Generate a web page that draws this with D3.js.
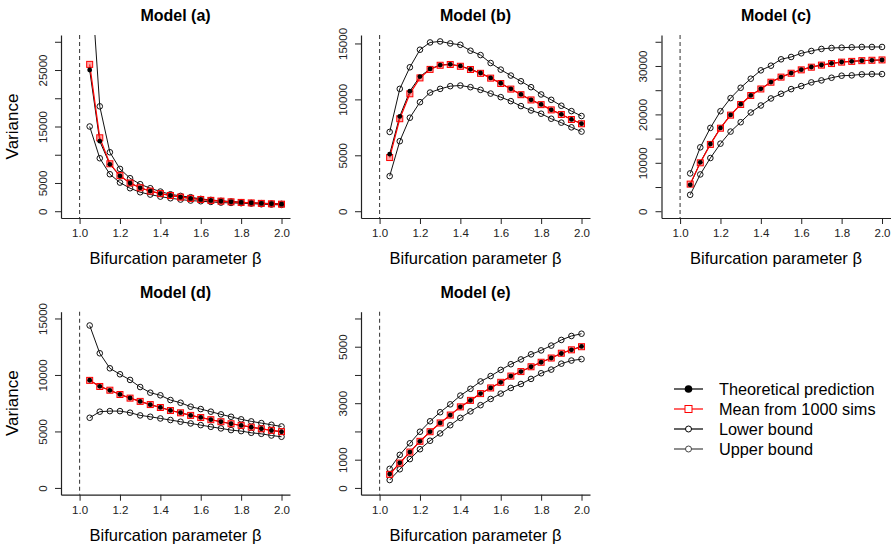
<!DOCTYPE html>
<html>
<head>
<meta charset="utf-8">
<script src="https://cdn.jsdelivr.net/npm/d3@7"></script>
<style>
  body { margin: 0; background: #fff; }
  svg { font-family: "Liberation Sans", Arial, sans-serif; }
  .axis path, .axis line { stroke: #222; }
  .axis text { fill: #222; font-size: 11.5px; }
</style>
</head>
<body>
<svg id="chart" width="891" height="548"></svg>
<script>
// beta values shared by every panel
const beta = [1.05, 1.10, 1.15, 1.20, 1.25, 1.30, 1.35, 1.40, 1.45, 1.50,
              1.55, 1.60, 1.65, 1.70, 1.75, 1.80, 1.85, 1.90, 1.95, 2.00];
const xTicks = [1.0, 1.2, 1.4, 1.6, 1.8, 2.0];

// Model (a)
const theoA  = [25000, 12400, 8300, 6250, 4980, 4150, 3570, 3120, 2780, 2500, 2270, 2080, 1920, 1790, 1670, 1560, 1470, 1390, 1320, 1250];
const meanA  = [26000, 13000, 8400, 6300, 5000, 4150, 3560, 3120, 2780, 2500, 2270, 2080, 1920, 1790, 1660, 1560, 1470, 1390, 1310, 1250];
const lowerA = [15000, 9380, 6550, 5070, 4070, 3360, 2950, 2590, 2300, 2060, 1890, 1770, 1650, 1530, 1470, 1420, 1360, 1240, 1180, 1120];
const upperA = [45000, 18570, 10440, 7490, 5840, 4780, 4070, 3480, 3000, 2710, 2480, 2180, 2000, 1830, 1710, 1590, 1470, 1420, 1360, 1300];
const yTicksA = [0, 5000, 10000, 15000, 20000, 25000, 30000];
const yLabelsA = [0, 5000, 15000, 25000];

// Model (b)
const theoB  = [5100, 8480, 10730, 12040, 12720, 13070, 13130, 12990, 12690, 12360, 11920, 11440, 10940, 10440, 9960, 9550, 9070, 8660, 8210, 7830];
const meanB  = [4800, 8270, 10500, 11920, 12680, 13050, 13120, 12960, 12670, 12330, 11900, 11420, 10920, 10420, 9950, 9530, 9060, 8650, 8200, 7820];
const lowerB = [3140, 6260, 8360, 9750, 10610, 10940, 11180, 11240, 11090, 10850, 10520, 10200, 9840, 9400, 9010, 8720, 8270, 7920, 7500, 7120];
const upperB = [7090, 10940, 12870, 14440, 15090, 15180, 15000, 14880, 14350, 13960, 13250, 12660, 12130, 11620, 11090, 10440, 9960, 9430, 8950, 8510];
const yTicksB = [0, 5000, 10000, 15000];
const yLabelsB = [0, 5000, 10000, 15000];

// Model (c)
const theoC  = [5460, 10090, 13890, 17210, 19900, 22110, 23910, 25290, 26680, 27710, 28540, 29230, 29790, 30200, 30550, 30820, 30960, 31100, 31170, 31240];
const meanC  = [5600, 10000, 13800, 17150, 19850, 22050, 23900, 25250, 26650, 27700, 28500, 29200, 29750, 30180, 30500, 30800, 30950, 31100, 31180, 31250];
const lowerC = [3390, 7600, 10990, 13960, 16450, 18380, 20390, 21840, 23290, 24260, 25220, 25850, 26610, 27020, 27570, 27990, 28060, 28270, 28330, 28330];
const upperC = [7810, 13200, 17210, 20660, 23360, 25500, 27370, 29100, 30060, 31380, 31860, 32620, 33100, 33520, 33720, 33790, 33860, 33930, 33930, 33930];
const yTicksC = [0, 5000, 10000, 15000, 20000, 25000, 30000, 35000];
const yLabelsC = [0, 10000, 20000, 30000];

// Model (d)
const theoD  = [9530, 8990, 8640, 8280, 7960, 7660, 7370, 7130, 6860, 6660, 6420, 6240, 6040, 5860, 5680, 5530, 5380, 5240, 5090, 4970];
const meanD  = [9520, 8980, 8650, 8270, 7950, 7660, 7380, 7120, 6850, 6650, 6420, 6230, 6040, 5860, 5680, 5540, 5380, 5230, 5100, 4980];
const lowerD = [6210, 6750, 6800, 6800, 6660, 6420, 6300, 6150, 6010, 5860, 5710, 5560, 5410, 5270, 5120, 5030, 4880, 4790, 4640, 4530];
const upperD = [14380, 11920, 10590, 10060, 9560, 8930, 8430, 8200, 7780, 7540, 7190, 6980, 6750, 6510, 6300, 6070, 5890, 5740, 5590, 5440];
const yTicksD = [0, 5000, 10000, 15000];
const yLabelsD = [0, 5000, 10000, 15000];

// Model (e)
const theoE  = [490, 890, 1270, 1650, 1990, 2300, 2580, 2870, 3100, 3340, 3540, 3740, 3960, 4120, 4290, 4450, 4600, 4760, 4890, 5010];
const meanE  = [480, 880, 1270, 1650, 1990, 2300, 2580, 2870, 3100, 3340, 3540, 3740, 3960, 4120, 4290, 4450, 4600, 4770, 4890, 5000];
const lowerE = [280, 660, 1020, 1370, 1670, 1930, 2220, 2480, 2710, 2930, 3150, 3340, 3540, 3680, 3860, 4060, 4190, 4400, 4510, 4560];
const upperE = [675, 1170, 1580, 1990, 2360, 2680, 2960, 3270, 3510, 3770, 3960, 4180, 4380, 4550, 4730, 4870, 5040, 5240, 5380, 5460];
const yTicksE = [0, 1000, 2000, 3000, 4000, 5000, 6000];
const yLabelsE = [0, 1000, 3000, 5000];

const legendLabels = ["Theoretical prediction", "Mean from 1000 sims", "Lower bound", "Upper bound"];

const panels = [
  {title: "Model (a)", theo: theoA, mean: meanA, lower: lowerA, upper: upperA, yMax: 30000, ticks: yTicksA, labels: yLabelsA, row: 0, col: 0},
  {title: "Model (b)", theo: theoB, mean: meanB, lower: lowerB, upper: upperB, yMax: 15150, ticks: yTicksB, labels: yLabelsB, row: 0, col: 1},
  {title: "Model (c)", theo: theoC, mean: meanC, lower: lowerC, upper: upperC, yMax: 35000, ticks: yTicksC, labels: yLabelsC, row: 0, col: 2},
  {title: "Model (d)", theo: theoD, mean: meanD, lower: lowerD, upper: upperD, yMax: 15000, ticks: yTicksD, labels: yLabelsD, row: 1, col: 0},
  {title: "Model (e)", theo: theoE, mean: meanE, lower: lowerE, upper: upperE, yMax: 6000, ticks: yTicksE, labels: yLabelsE, row: 1, col: 1}
];

const svg = d3.select("#chart");
const plotW = 229, plotH = 183;
const lefts = [61, 361, 661.5];
const tops = [35, 311.7];

// R-style 4% padding around xlim = c(0.95, 2)
const xPad = 0.04 * 1.05;

panels.forEach((p, i) => {
  const x0 = lefts[p.col], y0 = tops[p.row];
  const g = svg.append("g").attr("transform", `translate(${x0},${y0})`);

  const x = d3.scaleLinear().domain([0.95 - xPad, 2 + xPad]).range([0, plotW]);
  const y = d3.scaleLinear().domain([-0.04 * p.yMax, 1.04 * p.yMax]).range([plotH, 0]);

  g.append("clipPath").attr("id", "clip" + i)
    .append("rect").attr("width", plotW).attr("height", plotH);

  // axes
  g.append("g").attr("class", "axis")
    .attr("transform", `translate(0,${plotH})`)
    .call(d3.axisBottom(x).tickValues(xTicks).tickSize(6).tickSizeOuter(0).tickPadding(5)
      .tickFormat(d3.format(".1f")));

  const yAx = g.append("g").attr("class", "axis")
    .call(d3.axisLeft(y).tickValues(p.ticks).tickSize(6).tickSizeOuter(0)
      .tickFormat(d => p.labels.includes(d) ? String(d) : ""));
  yAx.selectAll("text")
    .attr("x", 0).attr("y", 0).attr("dy", "0.35em")
    .attr("text-anchor", "middle")
    .attr("transform", "translate(-18.5,0) rotate(-90)");

  g.selectAll(".axis path").attr("stroke-width", 1.2);
  g.selectAll(".axis line").attr("stroke-width", 1);

  // dashed reference at beta = 1
  g.append("line")
    .attr("x1", x(1)).attr("x2", x(1)).attr("y1", 0).attr("y2", plotH)
    .attr("stroke", "#444").attr("stroke-dasharray", "4,3").attr("stroke-width", 1.1);

  const plot = g.append("g").attr("clip-path", `url(#clip${i})`);
  const line = vals => d3.line().x((d, j) => x(beta[j])).y(d => y(d))(vals);

  [p.lower, p.upper].forEach(vals => {
    plot.append("path").attr("d", line(vals))
      .attr("fill", "none").attr("stroke", "#111").attr("stroke-width", 1);
    plot.selectAll(null).data(vals).join("circle")
      .attr("cx", (d, j) => x(beta[j])).attr("cy", d => y(d)).attr("r", 2.8)
      .attr("fill", "none").attr("stroke", "#111").attr("stroke-width", 1);
  });

  plot.append("path").attr("d", line(p.theo))
    .attr("fill", "none").attr("stroke", "#000").attr("stroke-width", 1);

  plot.append("path").attr("d", line(p.mean))
    .attr("fill", "none").attr("stroke", "#ff0000").attr("stroke-width", 1.2);
  plot.selectAll(null).data(p.mean).join("rect")
    .attr("x", (d, j) => x(beta[j]) - 3).attr("y", d => y(d) - 3)
    .attr("width", 6).attr("height", 6)
    .attr("fill", "rgba(255,60,60,0.45)").attr("stroke", "#ff0000").attr("stroke-width", 1);

  plot.selectAll(null).data(p.theo).join("circle")
    .attr("cx", (d, j) => x(beta[j])).attr("cy", d => y(d)).attr("r", 2.4)
    .attr("fill", "#000");

  // titles
  g.append("text")
    .attr("x", plotW / 2).attr("y", -14)
    .attr("text-anchor", "middle")
    .style("font-size", "16px").style("font-weight", "bold")
    .text(p.title);

  g.append("text")
    .attr("x", plotW / 2).attr("y", plotH + 46)
    .attr("text-anchor", "middle")
    .style("font-size", "16.5px")
    .text("Bifurcation parameter β");

  if (p.col === 0) {
    g.append("text")
      .attr("transform", `translate(${-43},${plotH / 2}) rotate(-90)`)
      .attr("text-anchor", "middle")
      .style("font-size", "17px")
      .text("Variance");
  }
});

// legend (no box)
const legend = svg.append("g").attr("transform", "translate(674,389)");
const legendStyle = [
  {stroke: "#000", marker: "dot"},
  {stroke: "#ff0000", marker: "square"},
  {stroke: "#000", marker: "circle"},
  {stroke: "#444", marker: "circle"}
];
legendLabels.forEach((lab, i) => {
  const row = legend.append("g").attr("transform", `translate(0,${i * 20})`);
  const st = legendStyle[i];
  row.append("line").attr("x1", 0).attr("x2", 29).attr("stroke", st.stroke).attr("stroke-width", 1.2);
  if (st.marker === "dot") {
    row.append("circle").attr("cx", 14.5).attr("r", 3.8).attr("fill", "#000");
  } else if (st.marker === "square") {
    row.append("rect").attr("x", 11).attr("y", -3.5).attr("width", 7).attr("height", 7)
      .attr("fill", "#fff").attr("stroke", "#ff0000").attr("stroke-width", 1);
  } else {
    row.append("circle").attr("cx", 14.5).attr("r", 3).attr("fill", "#fff")
      .attr("stroke", st.stroke).attr("stroke-width", 1);
  }
  row.append("text").attr("x", 45).attr("dy", "0.35em")
    .style("font-size", "16.3px").text(lab);
});
</script>
</body>
</html>
